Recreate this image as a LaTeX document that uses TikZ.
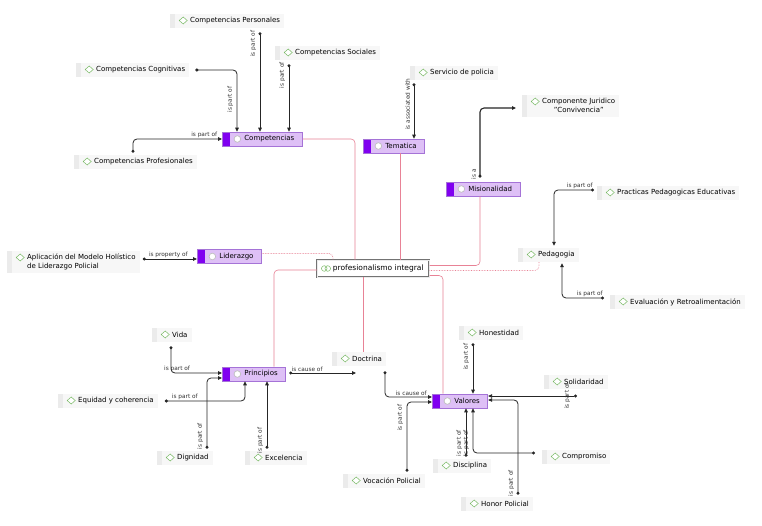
\documentclass[tikz,border=0pt]{standalone}
\usepackage{fontspec}
\setmainfont{DejaVu Sans}
\usetikzlibrary{arrows.meta}
\definecolor{lav}{RGB}{222,192,246}
\definecolor{lavborder}{RGB}{165,115,215}
\definecolor{violetbar}{RGB}{128,0,240}
\definecolor{dgreen}{RGB}{120,185,100}
\definecolor{pinkline}{RGB}{232,130,150}
\newcommand\nfont{\fontsize{7}{9}\selectfont}
\newcommand\cenfont{\fontsize{7.5}{9}\selectfont}
\newcommand\lfont{\fontsize{5.8}{7}\selectfont}
\newcommand\conceptlbl[1]{\hspace*{16pt}#1}
\newcommand\mainlbl[1]{\hspace*{18pt}#1\hspace*{4pt}}
\begin{document}
\begin{tikzpicture}[x=1pt,y=-1pt,
 concept/.style={rectangle, fill=black!3, anchor=west, inner xsep=4pt, inner ysep=2pt,
   minimum height=14pt, font=\nfont, path picture={
   \fill[black!8] (path picture bounding box.south west) rectangle ([xshift=5pt]path picture bounding box.north west);
   \draw[dgreen, line width=0.5pt, fill=white] ([xshift=13pt,yshift=-6.5pt]path picture bounding box.north west)
     +(-4pt,0) -- +(0,3.5pt) -- +(4pt,0) -- +(0,-3.5pt) -- cycle;
 }},
 mainbox/.style={rectangle, fill=lav, draw=lavborder, line width=0.7pt, anchor=west,
   inner xsep=4pt, inner ysep=2pt, minimum height=14pt, font=\nfont, path picture={
   \fill[violetbar] (path picture bounding box.south west) rectangle ([xshift=8pt]path picture bounding box.north west);
   \draw[black!25, fill=white] ([xshift=15pt]path picture bounding box.west) circle (3.3pt);
 }},
 centre/.style={rectangle, anchor=west, fill=white, draw=black!55, double=black!8,
   double distance=0.7pt, line width=0.5pt, minimum width=112pt, minimum height=17pt,
   font=\cenfont, path picture={
   \draw[dgreen, line width=0.5pt] ([xshift=7pt]path picture bounding box.west) circle (2.8pt);
   \draw[dgreen, line width=0.5pt] ([xshift=10.5pt]path picture bounding box.west) circle (2.8pt);
 }},
 rel/.style={draw=black!85, line width=0.8pt, rounded corners=4pt,
   {Circle[length=3pt]}-{Triangle[length=4pt,width=3.6pt]}},
 lbl/.style={font=\lfont, text=black!80, inner sep=1pt},
 rlbl/.style={lbl, rotate=90, anchor=south, outer sep=3pt},
 hlbl/.style={lbl, anchor=south},
 pinkc/.style={draw=pinkline, line width=0.6pt, rounded corners=4pt},
 pinkd/.style={pinkc, densely dotted, line width=0.7pt},
]
\useasboundingbox (0,0) rectangle (762,526);
\fill[white] (0,0) rectangle (762,526);

% main nodes
\node[mainbox] (comp) at (222,139) {\mainlbl{Competencias}};
\node[mainbox] (tema) at (363,146) {\mainlbl{Tematica}};
\node[mainbox] (mision) at (446,189) {\mainlbl{Misionalidad}};
\node[mainbox] (lider) at (197,256.5) {\mainlbl{Liderazgo}};
\node[mainbox] (princ) at (222,374) {\mainlbl{Principios}};
\node[mainbox] (valores) at (432,401) {\mainlbl{Valores}};
\node[centre] (center) at (317,268.5) {\hspace*{10pt}profesionalismo integral};

% concept nodes
\node[concept] (cpers) at (170,21) {\conceptlbl{Competencias Personales}};
\node[concept] (csoc) at (275,53) {\conceptlbl{Competencias Sociales}};
\node[concept] (ccog) at (76,70) {\conceptlbl{Competencias Cognitivas}};
\node[concept] (cprof) at (74,162) {\conceptlbl{Competencias Profesionales}};
\node[concept] (serv) at (410,73) {\conceptlbl{Servicio de policia}};
\node[concept] (compj) at (522,106) {\hspace*{16pt}\begin{tabular}{@{}c@{}}Componente Juridico\\"Convivencia"\end{tabular}};
\node[concept] (ppe) at (597,193) {\conceptlbl{Practicas Pedagogicas Educativas}};
\node[concept] (peda) at (518,255) {\conceptlbl{Pedagogia}};
\node[concept] (eval) at (610,302) {\conceptlbl{Evaluación y Retroalimentación}};
\node[concept] (aplic) at (7,262) {\hspace*{16pt}\begin{tabular}{@{}l@{}}Aplicación del Modelo Holístico\\de Liderazgo Policial\end{tabular}};
\node[concept] (vida) at (152,335) {\conceptlbl{Vida}};
\node[concept] (equi) at (58,401) {\conceptlbl{Equidad y coherencia}};
\node[concept] (dign) at (157,458) {\conceptlbl{Dignidad}};
\node[concept] (exce) at (245,458) {\conceptlbl{Excelencia}};
\node[concept] (doct) at (332,359) {\conceptlbl{Doctrina}};
\node[concept] (hone) at (459,333) {\conceptlbl{Honestidad}};
\node[concept] (soli) at (544,382) {\conceptlbl{Solidaridad}};
\node[concept] (compr) at (542,457) {\conceptlbl{Compromiso}};
\node[concept] (disc) at (433,466) {\conceptlbl{Disciplina}};
\node[concept] (voca) at (343,481) {\conceptlbl{Vocación Policial}};
\node[concept] (honor) at (461,504) {\conceptlbl{Honor Policial}};

% ports
\coordinate (c1) at ([xshift=15pt]comp.north west);
\coordinate (c2) at ([xshift=38pt]comp.north west);
\coordinate (c3) at ([xshift=67pt]comp.north west);
\coordinate (t1) at ([xshift=51pt]tema.north west);
\coordinate (m1) at ([xshift=34pt]mision.north west);
\coordinate (cjw) at ([yshift=-2pt]compj.west);
\coordinate (p1) at ([xshift=36pt]peda.north west);
\coordinate (p2) at ([xshift=44pt]peda.south west);
\coordinate (lp) at ([yshift=-2.5pt]lider.west);
\coordinate (pr1) at ([xshift=23pt]princ.south west);
\coordinate (pr2) at ([xshift=45pt]princ.south west);
\coordinate (prw1) at ([yshift=1pt]princ.west);
\coordinate (prw2) at ([yshift=-4pt]princ.west);
\coordinate (dp) at ([xshift=24pt]doct.south west);
\coordinate (v1) at ([xshift=41pt]valores.north west);
\coordinate (v2) at ([xshift=34pt]valores.south west);
\coordinate (v3) at ([xshift=41pt]valores.south west);
\coordinate (vw1) at ([yshift=4pt]valores.west);
\coordinate (vw2) at ([yshift=-1pt]valores.west);
\coordinate (ve1) at ([yshift=5pt]valores.east);
\coordinate (ve2) at ([yshift=1pt]valores.east);
\coordinate (sp) at ([xshift=33pt]soli.west);
\coordinate (tp) at ([xshift=37pt]tema.south west);
\coordinate (dc) at ([xshift=46pt]center.south west);

% pink links to the central node
\draw[pinkc] (comp.east) -| ([xshift=38pt]center.north west);
\draw[pinkc] (tp) -- (tp |- center.north);
\draw[pinkc] ([xshift=34pt]mision.south west) |- ([yshift=3pt]center.east);
\draw[pinkd] ([xshift=21pt]peda.south west) |- ([yshift=-2pt]center.east);
\draw[pinkd] ([yshift=3pt]lider.east) -| ([xshift=16pt]center.north west);
\draw[pinkc] ([xshift=52pt]princ.north west) |- ([yshift=-1.5pt]center.west);
\draw[pinkc] (dc) -- (dc |- doct.north);
\draw[pinkc] ([xshift=11pt]valores.north west) |- ([yshift=-7pt]center.east);

% Competencias
\draw[rel, shorten <=6pt] (ccog.east) -| node[rlbl, pos=0.74] {is part of} (c1);
\draw[rel, shorten <=4pt] (c2 |- cpers.south) -- node[rlbl, pos=0.15] {is part of} (c2);
\draw[rel, shorten <=4pt] (c3 |- csoc.south) -- node[rlbl, pos=0.21] {is part of} (c3);
\draw[rel, shorten <=2pt] ([xshift=59pt]cprof.north west) |- node[hlbl, pos=0.9] {is part of} (comp.west);
% Tematica
\draw[rel, shorten <=3pt] (t1 |- serv.south) -- node[rlbl, pos=0.41] {is associated with} (t1);
% Misionalidad
\draw[rel, line width=1.1pt, shorten <=4pt, shorten >=6pt] (m1) |- node[rlbl, pos=0.05] {is a} (cjw);
% Pedagogia
\draw[rel, shorten <=3pt, shorten >=2pt] ([yshift=3pt]ppe.west) -| node[hlbl, pos=0.2] {is part of} (p1);
\draw[rel, shorten <=6pt, shorten >=1pt] ([yshift=4pt]eval.west) -| node[hlbl, pos=0.21] {is part of} (p2);
% Liderazgo
\draw[rel, shorten <=3pt] (aplic.east |- lp) -- node[hlbl] {is property of} (lp);
% Principios
\draw[rel, shorten <=4pt] ([xshift=19pt]vida.south west) |- node[hlbl, pos=0.56] {is part of} (prw1);
\draw[rel, shorten <=2pt] ([xshift=50pt]dign.north west) |- node[rlbl, pos=0.1] {is part of} (prw2);
\draw[rel, shorten <=7pt] (equi.east) -| node[hlbl, pos=0.155] {is part of} (pr1);
\draw[rel, shorten <=2pt] (pr2 |- exce.north) -- node[rlbl, pos=0.15] {is part of} (pr2);
\draw[rel, shorten <=3pt] (prw1 -| princ.east) -- node[hlbl, pos=0.3] {is cause of} (prw1 -| dp);
% Valores
\draw[rel, shorten <=5pt] ([xshift=53pt]doct.south west) |- node[hlbl, pos=0.78] {is cause of} (vw1);
\draw[rel, shorten <=2pt] ([xshift=64pt]voca.north west) |- node[rlbl, pos=0.39] {is part of} (vw2);
\draw[rel, shorten <=3pt] (v1 |- hone.south) -- node[rlbl, pos=0.31] {is part of} (v1);
\draw[rel] (sp |- ve1) -- node[lbl, rotate=90, pos=0.11] {is part of} (ve1);
\draw[rel, shorten <=2pt] ([xshift=57pt]honor.north west) |- node[rlbl, pos=0.07] {is part of} (ve2);
\draw[rel, shorten <=2pt] (v2 |- disc.north) -- node[rlbl, pos=0.31] {is part of} (v2);
\draw[rel, shorten <=7pt] ([yshift=4pt]compr.west) -| node[rlbl, pos=0.61] {is part of} (v3);
\end{tikzpicture}
\end{document}
